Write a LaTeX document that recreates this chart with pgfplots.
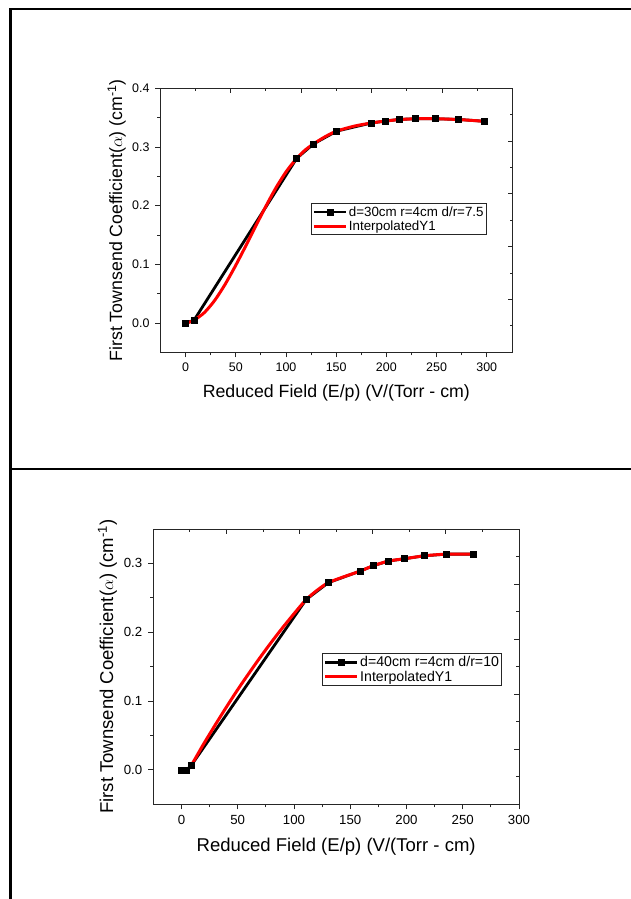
\documentclass[border=0pt]{standalone}
\usepackage{fontspec}
\setmainfont{Liberation Sans}
\usepackage{pgfplots}
\pgfplotsset{compat=1.18}
\pgfplotsset{
  originbase/.style={
    scale only axis,
    axis line style={line width=0.9bp, black!85},
    tick align=outside, xtick pos=left, ytick pos=left,
    major tick length=5bp, minor tick length=3bp,
    every tick/.style={black!85, line width=0.9bp},
    minor x tick num=1, minor y tick num=1,
    /pgf/number format/assume math mode=true,
    yticklabel style={/pgf/number format/fixed, /pgf/number format/fixed zerofill, /pgf/number format/precision=1},
    legend cell align=left,
    legend image code/.code={\draw[mark repeat=2,mark phase=2,##1] plot coordinates {(0bp,0bp)(16bp,0bp)(32bp,0bp)};},
    blk/.style={black, line width=2.8bp, mark=square*, mark size=3bp, mark options={solid, line width=0.6bp}},
    rd/.style={red, line width=3bp, smooth, tension=0.45},
  },
  opp/.style={
    scale only axis, xmin=0, xmax=10, ymin=0, ymax=10,
    axis line style={draw=none}, tick align=inside,
    xtick pos=right, ytick pos=right,
    xtick={2,4,6,8}, minor xtick={1,3,5,7,9},
    ytick={2,4,6,8}, minor ytick={1,3,5,7,9},
    xticklabels={}, yticklabels={},
    major tick length=5bp, minor tick length=3bp,
    every tick/.style={black!85, line width=0.9bp},
  },
}
\begin{document}
\begin{tikzpicture}[x=1bp,y=1bp]
\path[use as bounding box] (0,0) rectangle (631,899);
\draw[line width=2.6bp] (10.5,0) -- (10.5,890) -- (631,890);
\draw[line width=2.2bp] (10.5,430) -- (631,430);

% ---------- plot 1 ----------
\begin{axis}[originbase,
  at={(160bp,546.7bp)}, anchor=south west,
  width=352.7bp, height=264bp,
  xmin=-25.6, xmax=325.9, ymin=-0.05, ymax=0.4,
  xtick={0,50,...,300}, ytick={0,0.1,...,0.4},
  ticklabel style={font=\fontsize{12.5}{14}\selectfont},
  xticklabel style={anchor=base, yshift=-14bp},
  yticklabel style={anchor=east, xshift=-2bp},
  xlabel={Reduced Field (E/p) (V/(Torr - cm)},
  xlabel style={at={(axis description cs:0.5,0)}, anchor=center, yshift=-41bp, font=\fontsize{17.8}{20}\selectfont},
  ylabel={First Townsend Coefficient($\alpha$) (cm\textsuperscript{-1})},
  ylabel style={at={(axis description cs:-0.1228,0.5)}, anchor=center, font=\fontsize{17.8}{20}\selectfont},
  legend style={at={(axis description cs:0.428,0.564)}, anchor=north west, draw=black!85, line width=0.9bp,
    font=\fontsize{13.4}{15}\selectfont, inner sep=1bp, nodes={inner sep=1.5bp}, row sep=0bp},
]
\addplot[blk] coordinates {(0,0) (8.3,0.0046) (110.6,0.2805) (127.2,0.305) (150.5,0.327) (185.4,0.341) (198.6,0.344) (212.9,0.347) (229.2,0.348) (249.2,0.348) (271.4,0.347) (297.6,0.3437)};
\addlegendentry{d=30cm r=4cm d/r=7.5}
\addplot[rd] coordinates {(0,0) (4,0.0015) (8.3,0.0046) (18.5,0.0175) (28.8,0.0382) (39,0.065) (49.2,0.0961) (59.5,0.130) (69.7,0.1648) (79.9,0.1989) (90.1,0.2308) (100.4,0.2585) (110.6,0.2805) (118.9,0.2945) (127.2,0.305) (139,0.3175) (150.5,0.327) (168,0.3355) (185.4,0.341) (198.6,0.344) (212.9,0.3467) (229.2,0.348) (249.2,0.348) (271.4,0.3468) (297.6,0.3437)};
\addlegendentry{InterpolatedY1}
\end{axis}
\begin{axis}[opp, at={(160bp,546.7bp)}, anchor=south west, width=352.7bp, height=264bp]
\end{axis}

% ---------- plot 2 ----------
\begin{axis}[originbase,
  at={(153.3bp,94.7bp)}, anchor=south west,
  width=365.7bp, height=275.3bp,
  xmin=-25, xmax=300, ymin=-0.05, ymax=0.35,
  xtick={0,50,...,300}, ytick={0,0.1,...,0.3},
  ticklabel style={font=\fontsize{13.3}{15}\selectfont},
  xticklabel style={anchor=base, yshift=-15bp},
  yticklabel style={anchor=east, xshift=-2.5bp},
  xlabel={Reduced Field (E/p) (V/(Torr - cm)},
  xlabel style={at={(axis description cs:0.5,0)}, anchor=center, yshift=-42.7bp, font=\fontsize{18.6}{21}\selectfont},
  ylabel={First Townsend Coefficient($\alpha$) (cm\textsuperscript{-1})},
  ylabel style={at={(axis description cs:-0.1252,0.5)}, anchor=center, font=\fontsize{18.6}{21}\selectfont},
  legend style={at={(axis description cs:0.462,0.548)}, anchor=north west, draw=black!85, line width=0.9bp,
    font=\fontsize{14.2}{16}\selectfont, inner sep=1bp, nodes={inner sep=1.5bp}, row sep=0bp},
]
\addplot[blk] coordinates {(0,0) (4.5,0) (8.5,0.006) (110.8,0.2474) (130.5,0.272) (159,0.2889) (170.4,0.2966) (184,0.3034) (198.3,0.3068) (216.1,0.3111) (235.8,0.3135) (259,0.3135)};
\addlegendentry{d=40cm r=4cm d/r=10}
\addplot[rd] coordinates {(0,0) (4.5,0) (8.5,0.006) (18.7,0.0348) (29,0.0626) (39.2,0.0893) (49.4,0.1151) (59.7,0.1397) (69.9,0.1633) (80.1,0.1859) (90.3,0.2074) (100.6,0.228) (110.8,0.2474) (120.6,0.261) (130.5,0.272) (145,0.281) (159,0.2889) (170.4,0.2966) (184,0.3034) (198.3,0.3068) (216.1,0.3111) (235.8,0.3135) (259,0.3135)};
\addlegendentry{InterpolatedY1}
\end{axis}
\begin{axis}[opp, at={(153.3bp,94.7bp)}, anchor=south west, width=365.7bp, height=275.3bp]
\end{axis}
\end{tikzpicture}
\end{document}
